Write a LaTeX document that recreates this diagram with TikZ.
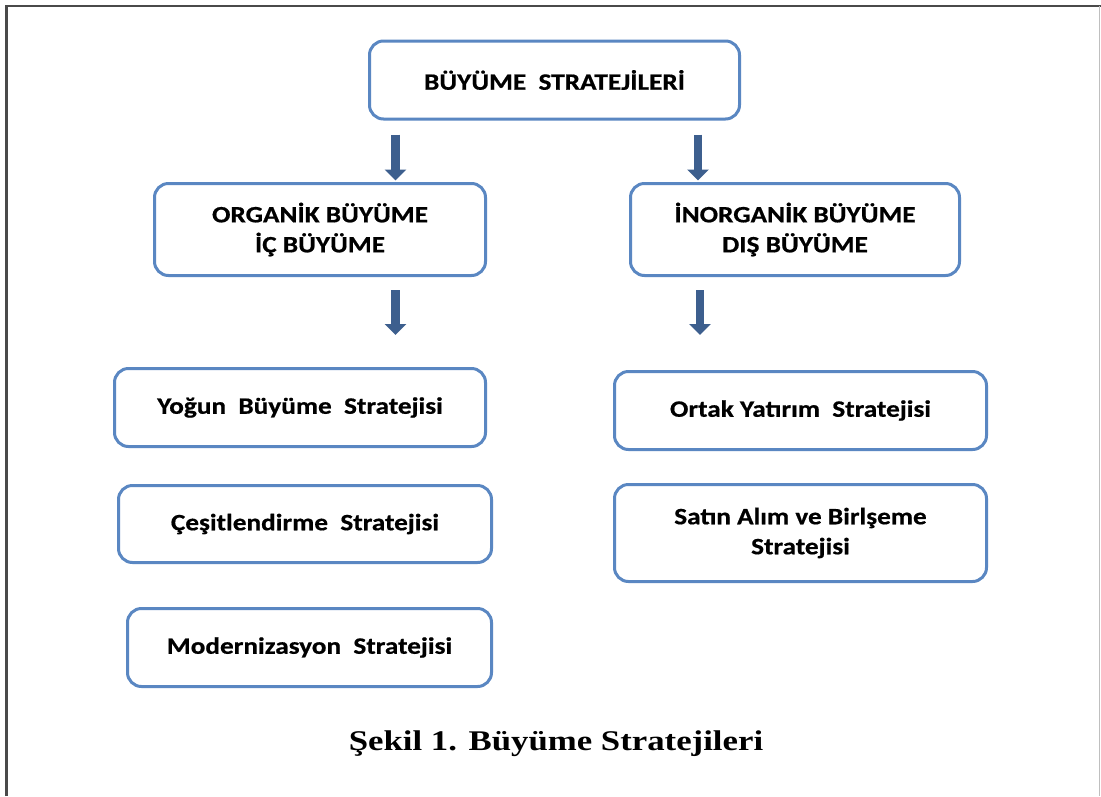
\documentclass[tikz,border=0pt]{standalone}
\usepackage{fontspec}
\setmainfont{Carlito}[FakeStretch=1.16,FakeBold=0.6]
\newfontfamily\capfont{Liberation Serif}[FakeStretch=1.22]
\usetikzlibrary{arrows.meta}
\definecolor{boxblue}{HTML}{5A87C2}
\definecolor{arrowblue}{HTML}{3D5F8E}
\definecolor{framegray}{HTML}{4A4A4A}
\tikzset{
  stratbox/.style={draw=boxblue, line width=3pt, rounded corners=14pt,
    fill=white, align=center, inner sep=0pt,
    font=\fontsize{23.5}{30}\selectfont\bfseries},
  downarrow/.style={draw=arrowblue, line width=8.5pt,
    -{Triangle[width=21pt,length=11pt]}},
  caption/.style={font=\capfont\fontsize{28.5}{32}\selectfont\bfseries}
}
\begin{document}
\begin{tikzpicture}[x=1pt,y=-1pt]
  \useasboundingbox (0,0) rectangle (1101,796);
  \fill[white] (0,0) rectangle (1101,796);
  % page frame: dark left and top rules, light right rule
  \draw[framegray, line width=2.6pt] (6.5,796) -- (6.5,6) -- (1101,6);
  \draw[black!25, line width=1pt] (1099.5,6) -- (1099.5,796);

  % boxes
  \node[stratbox, minimum width=370pt, minimum height=78pt] (top) at (554.5,80)
    {BÜYÜME\ \ STRATEJİLERİ};
  \node[stratbox, minimum width=331pt, minimum height=92pt] (org) at (320,229.5)
    {ORGANİK BÜYÜME\\İÇ BÜYÜME};
  \node[stratbox, minimum width=329pt, minimum height=92pt] (inorg) at (795,229.5)
    {İNORGANİK BÜYÜME\\DIŞ BÜYÜME};
  \node[stratbox, minimum width=371pt, minimum height=78pt] (yogun) at (300,407.5)
    {Yoğun\ \ Büyüme\ \ Stratejisi};
  \node[stratbox, minimum width=373pt, minimum height=77pt] (cesit) at (305,524)
    {Çeşitlendirme\ \ Stratejisi};
  \node[stratbox, minimum width=364pt, minimum height=78pt] (modern) at (309.5,647.5)
    {Modernizasyon\ \ Stratejisi};
  \node[stratbox, minimum width=372pt, minimum height=78pt] (ortak) at (800.5,410.5)
    {Ortak Yatırım\ \ Stratejisi};
  \node[stratbox, minimum width=372pt, minimum height=97pt] (satin) at (800.5,533)
    {Satın Alım ve Birlşeme\\Stratejisi};

  % arrows
  \coordinate (a1) at (395.5,0);
  \coordinate (a2) at (698,0);
  \coordinate (e3) at (395.5,335);
  \coordinate (e4) at (700,335);
  \draw[downarrow, shorten <=14pt, shorten >=1.5pt] (top.south -| a1) -- (org.north -| a1);
  \draw[downarrow, shorten <=14pt, shorten >=1.5pt] (top.south -| a2) -- (inorg.north -| a2);
  \draw[downarrow, shorten <=13pt] (org.south -| e3) -- (e3);
  \draw[downarrow, shorten <=13pt] (inorg.south -| e4) -- (e4);

  % caption
  \node[caption] (cap) at (556,744) {Şekil 1. Büyüme Stratejileri};
\end{tikzpicture}
\end{document}
